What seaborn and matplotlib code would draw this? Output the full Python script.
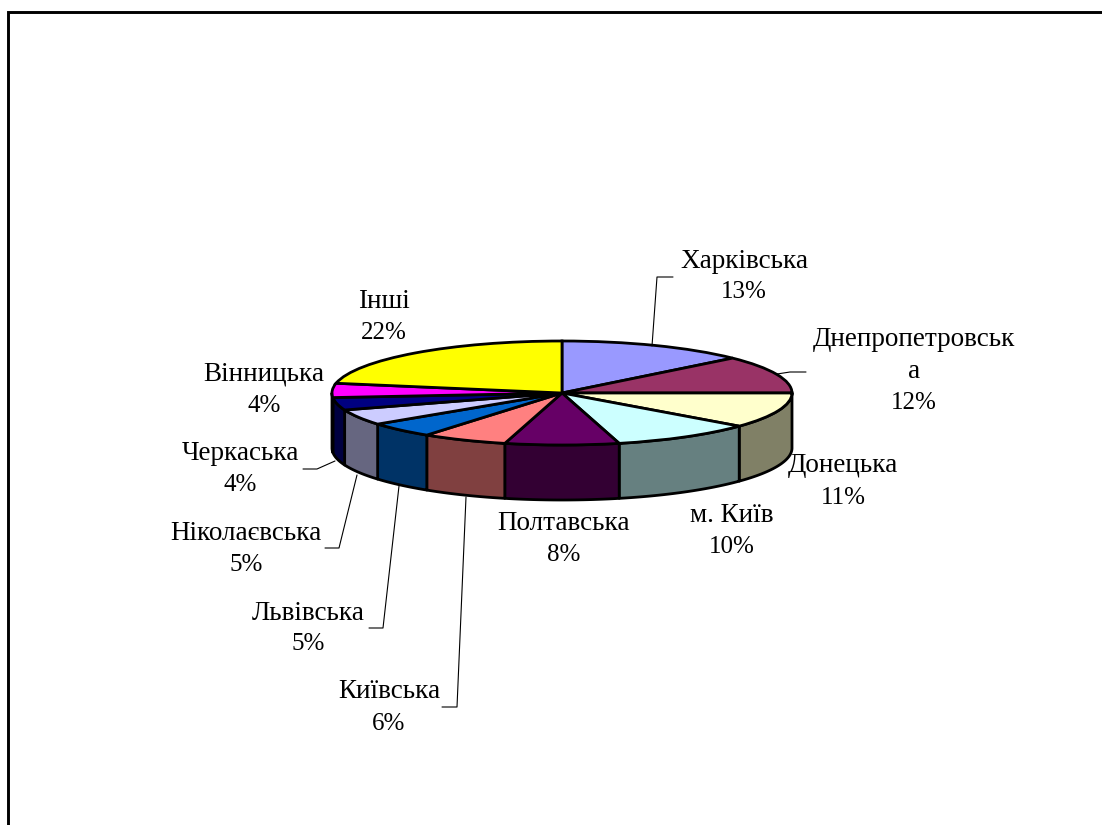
import numpy as np
import matplotlib
matplotlib.use("Agg")
import matplotlib.pyplot as plt
from matplotlib.lines import Line2D
from matplotlib.patches import Rectangle
import seaborn as sns

regions = ["Харківська", "Днепропетровськ\nа", "Донецька", "м. Київ", "Полтавська",
           "Київська", "Львівська", "Ніколаєвська", "Черкаська", "Вінницька", "Інші"]
shares = [13.3, 11.7, 11.0, 10.0, 8.0, 6.0, 4.8, 4.9, 3.9, 4.4, 22.0]
percent_labels = ["13%", "12%", "11%", "10%", "8%", "6%", "5%", "5%", "4%", "4%", "22%"]
top_colors = ["#9999FF", "#993366", "#FFFFCC", "#CCFFFF", "#660066", "#FF8080",
              "#0066CC", "#CCCCFF", "#000080", "#FF00FF", "#FFFF00"]

W, H = 1102, 825
CX, CY, RX, RY, DEPTH = 562, 393, 230, 52, 55
NAME_SIZE, PCT_SIZE = 19.5, 18

sns.set_theme(style="white")
plt.rcParams["font.family"] = ["Liberation Serif", "DejaVu Serif"]

fig = plt.figure(figsize=(W / 100, H / 100), dpi=100, facecolor="white")
ax = fig.add_axes([0, 0, 1, 1])

palette = sns.color_palette(top_colors)
ax.pie(shares, colors=palette, startangle=90, counterclock=False, radius=1,
       wedgeprops=dict(edgecolor="black", linewidth=2.0, zorder=3))
ax.set_aspect("auto")
ax.set_xlim(-CX / RX, (W - CX) / RX)
ax.set_ylim((CY - H) / RY, CY / RY)
ax.axis("off")

# side wall: visible front half of each slice, at half brightness
d = DEPTH / RY
edges = np.concatenate([[0], np.cumsum(shares)]) / sum(shares) * 360
for a0, a1, col in zip(edges[:-1], edges[1:], palette):
    lo, hi = max(a0, 90), min(a1, 270)
    if hi <= lo:
        continue
    t = np.radians(np.linspace(lo, hi, 80))
    x, y = np.sin(t), np.cos(t)
    ax.fill(np.r_[x, x[::-1]], np.r_[y, y[::-1] - d],
            facecolor=tuple(c * 0.5 for c in col), edgecolor="black",
            linewidth=2.0, joinstyle="round", zorder=2)


def fx(px):
    return px / W


def fy(py):
    return 1 - py / H


# frame, running off the right and bottom of the picture
fig.add_artist(Rectangle((fx(8), fy(900)), fx(1200), fy(12) - fy(900), fill=False,
                         edgecolor="black", linewidth=2.1, transform=fig.transFigure))

# label centres: (x, name line y, percent line y)
label_pos = [(744, 261, 292), (914, 340, 403), (843, 466, 498), (732, 516, 547),
             (564, 524, 555), (389, 691, 724), (308, 613, 644), (246, 533, 565),
             (240, 453, 485), (264, 374, 406), (384, 301, 333)]
for name, pct, (x, y1, y2) in zip(regions, percent_labels, label_pos):
    if "\n" in name:
        first, second = name.split("\n")
        fig.text(fx(x), fy(y1), first, ha="center", va="center", fontsize=NAME_SIZE, color="black")
        fig.text(fx(x), fy((y1 + y2) / 2), second, ha="center", va="center", fontsize=NAME_SIZE, color="black")
    else:
        fig.text(fx(x), fy(y1), name, ha="center", va="center", fontsize=NAME_SIZE, color="black")
    fig.text(fx(x), fy(y2), pct, ha="center", va="center", fontsize=PCT_SIZE, color="black")

leaders = [
    [(652, 346), (657, 277), (673, 277)],
    [(777, 374), (790, 372), (806, 372)],
    [(335, 461), (317, 469), (303, 469)],
    [(357, 475), (339, 548), (325, 548)],
    [(399, 486), (383, 628), (369, 628)],
    [(466, 497), (457, 707), (442, 707)],
]
for pts in leaders:
    xs, ys = zip(*pts)
    fig.add_artist(Line2D([fx(v) for v in xs], [fy(v) for v in ys], color="black",
                          linewidth=0.8, transform=fig.transFigure))

fig.savefig("out.png", dpi=100, facecolor="white")
